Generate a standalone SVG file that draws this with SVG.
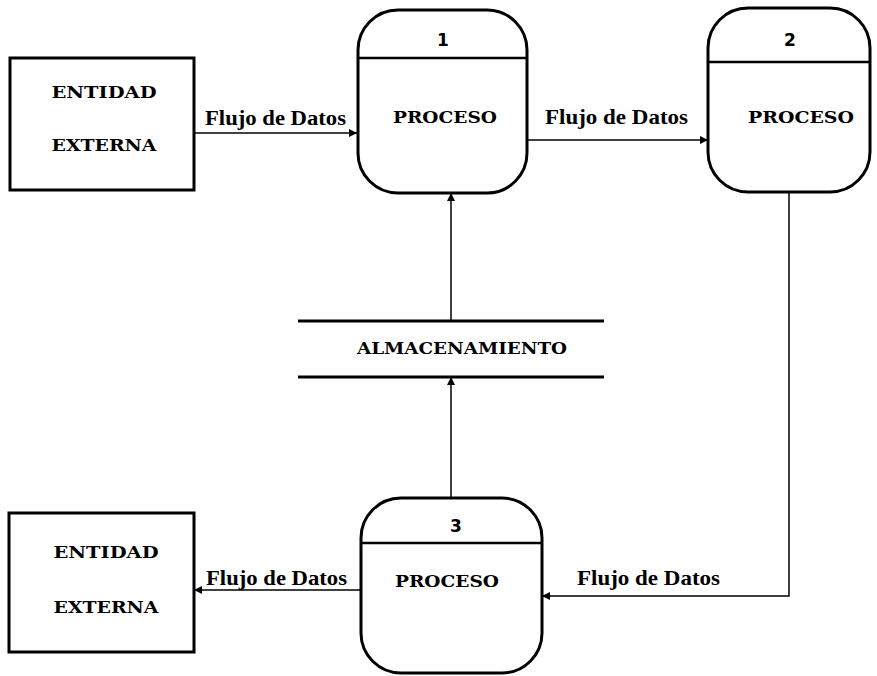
<svg xmlns="http://www.w3.org/2000/svg" width="877" height="676" viewBox="0 0 877 676">
<style>
.box{fill:none;stroke:#000;stroke-width:3}
.div{stroke:#000;stroke-width:2.5}
.conn{fill:none;stroke:#000;stroke-width:1.5}
.lbl{font-family:"DejaVu Serif",serif;font-weight:bold;font-size:16px;text-anchor:middle}
.num{font-family:"DejaVu Sans",sans-serif;font-weight:bold;font-size:17px;text-anchor:middle}
.flow{font-family:"Liberation Serif",serif;font-weight:bold;font-size:21px}
</style>
<defs>
<marker id="arr" viewBox="0 0 10 10" refX="10" refY="5" markerWidth="8" markerHeight="8" markerUnits="userSpaceOnUse" orient="auto">
<path d="M0,0 L10,5 L0,10 z" fill="#000"/>
</marker>
</defs>
<rect width="877" height="676" fill="#fff"/>
<g id="connectors">
<line class="conn" x1="194" y1="133" x2="357" y2="133" marker-end="url(#arr)"/>
<line class="conn" x1="527" y1="140" x2="708" y2="140" marker-end="url(#arr)"/>
<line class="conn" x1="451" y1="321" x2="451" y2="193" marker-end="url(#arr)"/>
<line class="conn" x1="451" y1="498" x2="451" y2="377" marker-end="url(#arr)"/>
<polyline class="conn" points="789,192 789,596 542,596" marker-end="url(#arr)"/>
<line class="conn" x1="360" y1="590" x2="194" y2="590" marker-end="url(#arr)"/>
<text class="flow" x="205" y="125" textLength="141" lengthAdjust="spacingAndGlyphs">Flujo de Datos</text>
<text class="flow" x="545" y="124" textLength="143" lengthAdjust="spacingAndGlyphs">Flujo de Datos</text>
<text class="flow" x="577" y="585" textLength="143" lengthAdjust="spacingAndGlyphs">Flujo de Datos</text>
<text class="flow" x="206" y="585" textLength="141" lengthAdjust="spacingAndGlyphs">Flujo de Datos</text>
</g>
<g id="entity1">
<rect class="box" x="10" y="58" width="184" height="132"/>
<text class="lbl" x="104" y="98" textLength="105" lengthAdjust="spacingAndGlyphs">ENTIDAD</text>
<text class="lbl" x="104" y="151" textLength="105" lengthAdjust="spacingAndGlyphs">EXTERNA</text>
</g>
<g id="process1">
<rect class="box" x="358" y="10" width="169" height="183" rx="40" ry="40"/>
<line class="div" x1="358" y1="58" x2="527" y2="58"/>
<text class="num" x="443" y="46">1</text>
<text class="lbl" x="445" y="123" textLength="104" lengthAdjust="spacingAndGlyphs">PROCESO</text>
</g>
<g id="process2">
<rect class="box" x="708" y="8" width="162" height="184" rx="40" ry="40"/>
<line class="div" x1="708" y1="62" x2="870" y2="62"/>
<text class="num" x="790" y="46">2</text>
<text class="lbl" x="801" y="123" textLength="106" lengthAdjust="spacingAndGlyphs">PROCESO</text>
</g>
<g id="store">
<line class="box" x1="298" y1="321" x2="604" y2="321"/>
<line class="box" x1="298" y1="377" x2="604" y2="377"/>
<text class="lbl" x="462" y="354" textLength="210" lengthAdjust="spacingAndGlyphs">ALMACENAMIENTO</text>
</g>
<g id="process3">
<rect class="box" x="361" y="498" width="181" height="175" rx="40" ry="40"/>
<line class="div" x1="361" y1="543" x2="542" y2="543"/>
<text class="num" x="456" y="532">3</text>
<text class="lbl" x="447" y="587" textLength="104" lengthAdjust="spacingAndGlyphs">PROCESO</text>
</g>
<g id="entity2">
<rect class="box" x="9" y="513" width="185" height="139"/>
<text class="lbl" x="106" y="558" textLength="105" lengthAdjust="spacingAndGlyphs">ENTIDAD</text>
<text class="lbl" x="106" y="613" textLength="105" lengthAdjust="spacingAndGlyphs">EXTERNA</text>
</g>
</svg>
